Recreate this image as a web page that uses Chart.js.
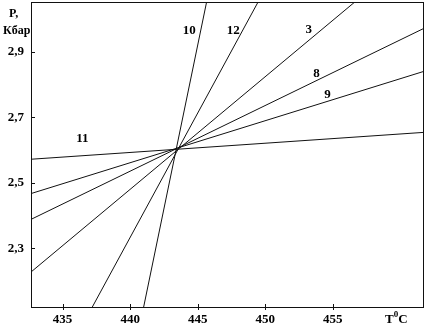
<!DOCTYPE html>
<html>
<head>
<meta charset="utf-8">
<script src="https://cdn.jsdelivr.net/npm/chart.js@4/dist/chart.umd.min.js"></script>
<style>
html,body{margin:0;padding:0;background:#fff;}
#c{display:block;}
</style>
</head>
<body>
<canvas id="c" width="428" height="326"></canvas>
<script>
// ---- data ----
const xTicks = [435, 440, 445, 450, 455];
const yTicks = [2.3, 2.5, 2.7, 2.9];
const xRange = [432.66, 461.68];
const yRange = [2.12, 3.053];

const lineNames = ['10', '12', '3', '8', '9', '11'];
const line10 = [{x: 441.0, y: 2.12}, {x: 445.66, y: 3.053}];
const line12 = [{x: 437.2, y: 2.12}, {x: 449.47, y: 3.053}];
const line3  = [{x: 432.66, y: 2.227}, {x: 456.63, y: 3.053}];
const line8  = [{x: 432.66, y: 2.388}, {x: 461.68, y: 2.971}];
const line9  = [{x: 432.66, y: 2.467}, {x: 461.68, y: 2.840}];
const line11 = [{x: 432.66, y: 2.572}, {x: 461.68, y: 2.654}];
const labelPos = [
  {t: '10', x: 444.37, y: 2.965},
  {t: '12', x: 447.63, y: 2.965},
  {t: '3',  x: 453.22, y: 2.967},
  {t: '8',  x: 453.79, y: 2.835},
  {t: '9',  x: 454.61, y: 2.771},
  {t: '11', x: 436.46, y: 2.634}
];

const FONT = '"Liberation Serif", "Times New Roman", serif';
const lines = [line10, line12, line3, line8, line9, line11];

const datasets = lines.map((d, i) => ({
  label: lineNames[i],
  data: d,
  showLine: true,
  borderColor: '#111',
  borderWidth: 1,
  pointRadius: 0,
  fill: false
}));

const decor = {
  id: 'decor',
  afterDraw(chart) {
    const ctx = chart.ctx;
    const a = chart.chartArea;
    const xs = chart.scales.x, ys = chart.scales.y;
    ctx.save();
    ctx.strokeStyle = '#111';
    ctx.lineWidth = 1;
    ctx.strokeRect(Math.round(a.left) + 0.5, Math.round(a.top) + 0.5,
                   Math.round(a.right - a.left), Math.round(a.bottom - a.top));
    ctx.beginPath();
    xTicks.forEach(v => {
      const px = Math.round(xs.getPixelForValue(v)) + 0.5;
      ctx.moveTo(px, a.bottom - 3);
      ctx.lineTo(px, a.bottom + 3);
    });
    yTicks.forEach(v => {
      const py = Math.round(ys.getPixelForValue(v)) + 0.5;
      ctx.moveTo(a.left, py);
      ctx.lineTo(a.left + 4, py);
    });
    ctx.stroke();

    ctx.fillStyle = '#000';
    ctx.font = 'bold 13px ' + FONT;
    ctx.textAlign = 'center';
    ctx.textBaseline = 'middle';
    labelPos.forEach(l => {
      ctx.fillText(l.t, xs.getPixelForValue(l.x), ys.getPixelForValue(l.y));
    });

    // axis titles
    ctx.font = 'bold 12px ' + FONT;
    ctx.textAlign = 'left';
    ctx.fillText('P,', 9, 14);
    ctx.fillText('Кбар', 3, 31);
    // T^0C
    ctx.font = 'bold 13px ' + FONT;
    let x0 = 385, y0 = 320;
    ctx.fillText('T', x0, y0);
    let w = ctx.measureText('T').width;
    ctx.font = 'bold 9px ' + FONT;
    ctx.fillText('0', x0 + w, y0 - 5);
    let w2 = ctx.measureText('0').width;
    ctx.font = 'bold 13px ' + FONT;
    ctx.fillText('C', x0 + w + w2, y0);
    ctx.restore();
  }
};

new Chart(document.getElementById('c'), {
  type: 'scatter',
  data: {datasets},
  plugins: [decor],
  options: {
    responsive: false,
    animation: false,
    layout: {padding: {top: 2, right: 5, left: 0, bottom: 0}},
    plugins: {legend: {display: false}, tooltip: {enabled: false}},
    scales: {
      x: {
        type: 'linear',
        min: xRange[0], max: xRange[1],
        grid: {display: false, drawTicks: false},
        border: {display: false},
        afterBuildTicks: s => { s.ticks = xTicks.map(v => ({value: v})); },
        afterFit: s => { s.height = 19; s.paddingLeft = 0; s.paddingRight = 0; },
        ticks: {
          color: '#000', padding: 5, maxRotation: 0, autoSkip: false,
          font: {family: FONT, size: 13, weight: 'bold'},
          callback: v => String(v)
        }
      },
      y: {
        type: 'linear',
        min: yRange[0], max: yRange[1],
        grid: {display: false, drawTicks: false},
        border: {display: false},
        afterBuildTicks: s => { s.ticks = yTicks.map(v => ({value: v})); },
        afterFit: s => { s.width = 31; s.paddingTop = 0; s.paddingBottom = 0; },
        ticks: {
          color: '#000', padding: 7, autoSkip: false,
          font: {family: FONT, size: 13, weight: 'bold'},
          callback: v => Number(v).toFixed(1).replace('.', ',')
        }
      }
    }
  }
});
</script>
</body>
</html>
